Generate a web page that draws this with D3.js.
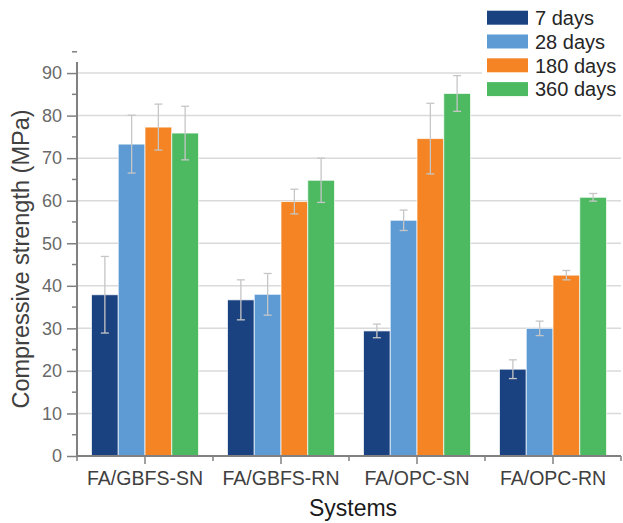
<!DOCTYPE html>
<html>
<head>
<meta charset="utf-8">
<script src="https://cdn.jsdelivr.net/npm/d3@7/dist/d3.min.js"></script>
<style>
  body { margin: 0; background: #fff; }
  svg { display: block; font-family: "Liberation Sans", Arial, sans-serif; }
</style>
</head>
<body>
<div id="chart"></div>
<script>
// ─── Data ───────────────────────────────────────────────────
const systems = ["FA/GBFS-SN", "FA/GBFS-RN", "FA/OPC-SN", "FA/OPC-RN"];
const ages = ["7 days", "28 days", "180 days", "360 days"];

const days7 = [37.9, 36.7, 29.4, 20.4];
const days28 = [73.3, 38.0, 55.4, 30.0];
const days180 = [77.3, 59.8, 74.6, 42.5];
const days360 = [75.9, 64.8, 85.2, 60.8];

const err7 = [9.0, 4.7, 1.6, 2.2];
const err28 = [6.8, 4.9, 2.4, 1.7];
const err180 = [5.4, 2.9, 8.3, 1.1];
const err360 = [6.3, 5.2, 4.2, 0.9];

const yTicks = [0, 10, 20, 30, 40, 50, 60, 70, 80, 90];
const colors = ["#1b4280", "#5e9bd4", "#f58424", "#4dba62"];

const values = [days7, days28, days180, days360];
const errors = [err7, err28, err180, err360];

// ─── Layout ─────────────────────────────────────────────────
const W = 623, H = 523;
const plotL = 77, plotR = 621, plotB = 456, plotT = 62;

const svg = d3.select("#chart").append("svg")
  .attr("width", W).attr("height", H);

const x0 = d3.scaleBand().domain(systems).range([plotL, plotR]);
const x1 = d3.scaleBand().domain(ages).range([14.5, x0.bandwidth() - 14.5]);
const y = d3.scaleLinear().domain([0, 92.6]).range([plotB, plotT]);

// gridlines
svg.append("g")
  .selectAll("line")
  .data(yTicks.filter(d => d > 0))
  .join("line")
  .attr("x1", plotL).attr("x2", plotR)
  .attr("y1", d => y(d)).attr("y2", d => y(d))
  .attr("stroke", "#dadada").attr("stroke-width", 1.5);

// bars
const rows = systems.flatMap((s, i) => ages.map((a, j) => ({
  system: s, age: a, j, value: values[j][i], err: errors[j][i]
})));

svg.append("g")
  .selectAll("rect")
  .data(rows)
  .join("rect")
  .attr("x", d => x0(d.system) + x1(d.age))
  .attr("y", d => y(d.value))
  .attr("width", x1.bandwidth())
  .attr("height", d => y(0) - y(d.value))
  .attr("fill", d => colors[d.j])
  .attr("stroke", "#ffffff").attr("stroke-opacity", 0.7).attr("stroke-width", 1);

// error bars
const eb = svg.append("g")
  .attr("stroke", "#c6c6c6").attr("stroke-width", 1.3).attr("fill", "none");
rows.forEach(d => {
  const cx = x0(d.system) + x1(d.age) + x1.bandwidth() / 2;
  const lo = y(d.value - d.err), hi = y(d.value + d.err);
  eb.append("line").attr("x1", cx).attr("x2", cx).attr("y1", lo).attr("y2", hi);
  eb.append("line").attr("x1", cx - 4).attr("x2", cx + 4).attr("y1", lo).attr("y2", lo);
  eb.append("line").attr("x1", cx - 4).attr("x2", cx + 4).attr("y1", hi).attr("y2", hi);
});

// y axis
const axisColor = "#808080";
const yAxis = svg.append("g")
  .attr("transform", `translate(${plotL},0)`)
  .call(d3.axisLeft(y).tickValues(yTicks).tickSize(10).tickPadding(5));
yAxis.select(".domain").remove();
yAxis.selectAll(".tick line").attr("stroke", axisColor).attr("stroke-width", 1.5);
yAxis.selectAll(".tick text")
  .attr("fill", "#6a6a6a").attr("font-size", 18)
  .attr("font-family", "Liberation Sans, Arial, sans-serif");
// minor ticks
svg.append("g")
  .selectAll("line")
  .data(yTicks.map(d => d + 5))
  .join("line")
  .attr("x1", plotL - 5).attr("x2", plotL)
  .attr("y1", d => y(d)).attr("y2", d => y(d))
  .attr("stroke", axisColor).attr("stroke-width", 1.5);
svg.append("line")
  .attr("x1", plotL).attr("x2", plotL).attr("y1", plotT).attr("y2", plotB + 1)
  .attr("stroke", axisColor).attr("stroke-width", 2);

// x axis
const xAxis = svg.append("g")
  .attr("transform", `translate(0,${plotB})`)
  .call(d3.axisBottom(x0).tickSize(8).tickPadding(7));
xAxis.select(".domain").remove();
xAxis.selectAll(".tick line").attr("stroke", axisColor).attr("stroke-width", 1.5);
xAxis.selectAll(".tick text")
  .attr("fill", "#404040").attr("font-size", 19.5)
  .attr("font-family", "Liberation Sans, Arial, sans-serif");
svg.append("g")
  .selectAll("line")
  .data(systems.map(s => x0(s)).concat([plotR]))
  .join("line")
  .attr("x1", d => d).attr("x2", d => d)
  .attr("y1", plotB).attr("y2", plotB + 5)
  .attr("stroke", axisColor).attr("stroke-width", 1.5);
svg.append("line")
  .attr("x1", plotL - 1).attr("x2", plotR).attr("y1", plotB).attr("y2", plotB)
  .attr("stroke", axisColor).attr("stroke-width", 2);

// axis titles
svg.append("text")
  .attr("x", (plotL + plotR) / 2 + 4).attr("y", 516)
  .attr("text-anchor", "middle").attr("font-size", 23).attr("fill", "#1a1a1a")
  .text("Systems");
svg.append("text")
  .attr("transform", `translate(29,${(plotT + plotB) / 2}) rotate(-90)`)
  .attr("text-anchor", "middle").attr("font-size", 23.5).attr("fill", "#404040")
  .text("Compressive strength (MPa)");

// legend
const legend = svg.append("g");
legend.append("rect")
  .attr("x", 482).attr("y", 0).attr("width", W - 482).attr("height", 102)
  .attr("fill", "#fff");
ages.forEach((a, j) => {
  const cy = 17.7 + j * 23.8;
  legend.append("rect")
    .attr("x", 487).attr("y", cy - 7).attr("width", 41).attr("height", 14)
    .attr("fill", colors[j]);
  legend.append("text")
    .attr("x", 535).attr("y", cy).attr("dy", "0.36em")
    .attr("font-size", 20).attr("fill", "#262626")
    .text(a);
});
</script>
</body>
</html>
